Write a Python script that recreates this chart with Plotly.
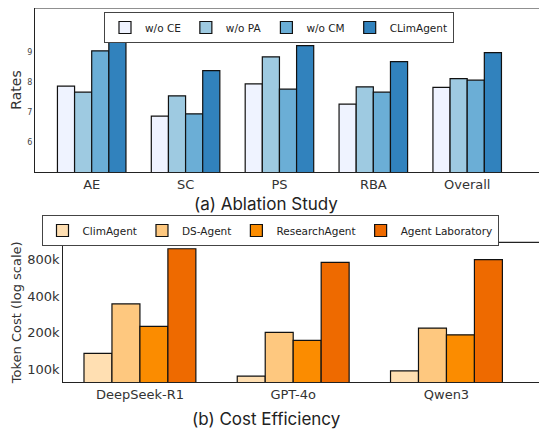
import plotly.graph_objects as go

# Panel (a) data
abl_categories = ["AE", "SC", "PS", "RBA", "Overall"]
abl_series = ["w/o CE", "w/o PA", "w/o CM", "CLimAgent"]
wo_ce = [7.86, 6.86, 7.94, 7.26, 7.82]
wo_pa = [7.66, 7.54, 8.84, 7.84, 8.11]
wo_cm = [9.04, 6.94, 7.76, 7.66, 8.06]
climagent_rates = [9.72, 8.38, 9.21, 8.68, 8.98]
abl_colors = ["#eff3ff", "#9ecae1", "#6baed6", "#3182bd"]

# Panel (b) data
models = ["DeepSeek-R1", "GPT-4o", "Qwen3"]
cost_series = ["ClimAgent", "DS-Agent", "ResearchAgent", "Agent Laboratory"]
cost_climagent = [135000, 88000, 97000]
cost_dsagent = [344000, 201000, 218000]
cost_research = [225000, 173000, 192000]
cost_agentlab = [977000, 755000, 795000]
cost_colors = ["#ffdfb2", "#fec87f", "#fb8c00", "#ee6a00"]

W, H = 547, 430
OFF = 8  # page body margin offset
FONT = "DejaVu Sans"

fig = go.Figure()

for name, vals, col in zip(abl_series, [wo_ce, wo_pa, wo_cm, climagent_rates], abl_colors):
    fig.add_trace(go.Bar(
        x=abl_categories, y=vals, name=name, marker_color=col,
        marker_line=dict(color="#111111", width=1.2),
        xaxis="x", yaxis="y", legend="legend", offsetgroup=name,
    ))

for name, vals, col in zip(cost_series, [cost_climagent, cost_dsagent, cost_research, cost_agentlab], cost_colors):
    fig.add_trace(go.Bar(
        x=models, y=vals, name=name, marker_color=col,
        marker_line=dict(color="#111111", width=1.2),
        xaxis="x2", yaxis="y2", legend="legend2", offsetgroup=name,
    ))

def px_x(p):
    return (p - OFF) / W

def px_y(p):
    return min(1.0, 1 - (p - OFF) / H)

axis_common = dict(showline=True, linecolor="#222222", linewidth=1.2, showgrid=False,
                   zeroline=False, ticks="", automargin=False)

fig.update_layout(
    width=W, height=H,
    margin=dict(l=0, r=0, t=0, b=0),
    paper_bgcolor="white", plot_bgcolor="white",
    font=dict(family=FONT, color="#222222"),
    barmode="group", bargap=0.27, bargroupgap=0,
    showlegend=True,
    xaxis=dict(**axis_common, domain=[px_x(35), 1], anchor="y",
               range=[-0.604, 4.85 + OFF / 93.8], tickfont=dict(size=13, color="#333333")),
    yaxis=dict(**axis_common, domain=[px_y(172), px_y(8)], anchor="x",
               range=[5, 10.467], tickvals=[6, 7, 8, 9],
               tickfont=dict(size=8, color="#444444"),
               title=dict(text="Rates", font=dict(size=14, color="#333333"), standoff=4)),
    xaxis2=dict(**axis_common, domain=[px_x(63.3), 1], anchor="y2",
                range=[-0.5, 2.656 + OFF / 153.25], tickfont=dict(size=13, color="#333333")),
    yaxis2=dict(**axis_common, domain=[px_y(382.3), px_y(242.3)], anchor="x2",
                type="log", range=[4.893, 6.043],
                tickvals=[100000, 200000, 400000, 800000],
                ticktext=["100k", "200k", "400k", "800k"],
                tickfont=dict(size=13, color="#333333"),
                title=dict(text="Token Cost (log scale)", font=dict(size=13, color="#333333"), standoff=2)),
    legend=dict(orientation="h", x=px_x(279), y=px_y(12), xanchor="center", yanchor="top",
                bgcolor="white", bordercolor="#444444", borderwidth=1,
                font=dict(size=10.5, color="#222222"), itemwidth=30,
                tracegroupgap=0),
    legend2=dict(orientation="h", x=px_x(270), y=px_y(215), xanchor="center", yanchor="top",
                 bgcolor="white", bordercolor="#444444", borderwidth=1,
                 font=dict(size=10.5, color="#222222"), itemwidth=30),
    shapes=[
        dict(type="line", xref="x domain", yref="y domain", x0=0, x1=1, y0=1, y1=1,
             line=dict(color="#222222", width=1.2)),
        dict(type="line", xref="x2 domain", yref="y2 domain", x0=0, x1=1, y0=1, y1=1,
             line=dict(color="#222222", width=1.2)),
    ],
    annotations=[
        dict(text="(a) Ablation Study", xref="paper", yref="paper", x=px_x(266), y=px_y(204),
             xanchor="center", yanchor="middle", showarrow=False,
             font=dict(family="Inter", size=17, color="#222222")),
        dict(text="(b) Cost Efficiency", xref="paper", yref="paper", x=px_x(266), y=px_y(419),
             xanchor="center", yanchor="middle", showarrow=False,
             font=dict(family="Inter", size=17, color="#222222")),
    ],
)

fig.write_html("out.html")
